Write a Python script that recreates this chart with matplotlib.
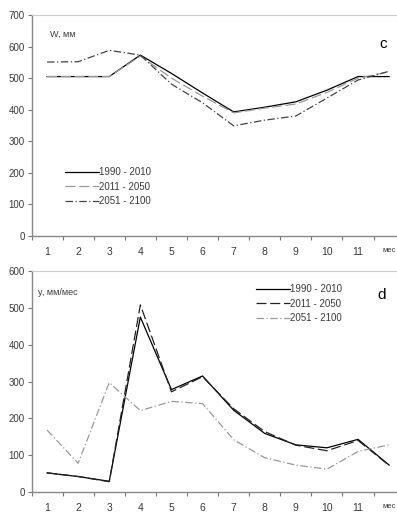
import numpy as np
import matplotlib.pyplot as plt

plt.rcParams['font.family'] = ['Liberation Sans', 'DejaVu Sans']

months = np.arange(1, 13)
month_labels = ["1", "2", "3", "4", "5", "6", "7", "8", "9", "10", "11", "мес"]
periods = ["1990 - 2010", "2011 - 2050", "2051 - 2100"]

# panel c: W, mm
w_1990 = [505, 505, 505, 573, 515, 453, 393, 408, 425, 462, 505, 505]
w_2011 = [505, 505, 505, 570, 500, 443, 390, 405, 418, 455, 500, 520]
w_2051 = [551, 552, 588, 573, 481, 422, 349, 367, 380, 437, 494, 522]

# panel d: y, mm/month
y_1990 = [52, 42, 29, 475, 278, 315, 222, 159, 128, 120, 143, 73]
y_2011 = [52, 42, 28, 508, 272, 313, 226, 164, 127, 112, 140, 72]
y_2051 = [168, 78, 297, 221, 246, 240, 142, 93, 73, 62, 110, 128]

txt = '#3a3a3a'
fig = plt.figure(figsize=(3.97, 5.12), dpi=100)

W, H = 397, 512
ax1 = fig.add_axes([31.5 / W, (H - 236) / H, 373.2 / W, 221 / H])
ax2 = fig.add_axes([31.5 / W, (H - 492) / H, 373.2 / W, 221 / H])


def style(ax, ymax):
    ax.set_xlim(0.5, 12.5)
    ax.set_ylim(0, ymax)
    ax.set_yticks(np.arange(0, ymax + 1, 100))
    ax.tick_params(axis='y', labelsize=7, colors='#777777', labelcolor=txt,
                   length=3, width=0.8, pad=2)
    ax.set_xticks(months)
    ax.set_xticklabels(month_labels)
    ax.set_xticks(np.arange(0.5, 13, 1), minor=True)
    ax.tick_params(axis='x', which='major', length=0, labelsize=7.5,
                   labelcolor=txt, pad=8)
    ax.tick_params(axis='x', which='minor', length=3, width=0.8,
                   colors='#777777')
    ax.get_xticklabels()[-1].set_fontsize(5.5)
    for s in ['left', 'bottom']:
        ax.spines[s].set_color('#888888')
        ax.spines[s].set_linewidth(1.0)
    ax.spines['top'].set_color('#cccccc')
    ax.spines['top'].set_linewidth(0.8)
    ax.spines['right'].set_visible(False)


ax1.plot(months, w_1990, color='black', lw=0.9, label=periods[0])
ax1.plot(months, w_2011, color='#9a9a9a', lw=0.9, dashes=(8, 3),
         label=periods[1])
ax1.plot(months, w_2051, color='#444444', lw=0.9, dashes=(6, 2, 1, 2),
         label=periods[2])
style(ax1, 700)
ax1.text(1.1, 630, "W, мм", fontsize=6.5, color=txt)
ax1.text(11.8, 595, "c", fontsize=11, color='black', ha='center')
ax1.legend(loc='upper left', bbox_to_anchor=(0.066, 0.35), frameon=False,
           fontsize=7, handlelength=3.5, handletextpad=0.05, labelspacing=0.45,
           labelcolor=txt)

ax2.plot(months, y_1990, color='black', lw=0.9, label=periods[0])
ax2.plot(months, y_2011, color='#222222', lw=0.9, dashes=(8, 3),
         label=periods[1])
ax2.plot(months, y_2051, color='#9a9a9a', lw=0.9, dashes=(6, 2, 1, 2),
         label=periods[2])
style(ax2, 600)
ax2.text(0.7, 535, "y, мм/мес", fontsize=6.5, color=txt)
ax2.text(11.75, 525, "d", fontsize=11, color='black', ha='center')
ax2.legend(loc='upper left', bbox_to_anchor=(0.578, 0.98), frameon=False,
           fontsize=7, handlelength=3.5, handletextpad=0.05, labelspacing=0.45,
           labelcolor=txt)

fig.savefig('out.png', dpi=100)
